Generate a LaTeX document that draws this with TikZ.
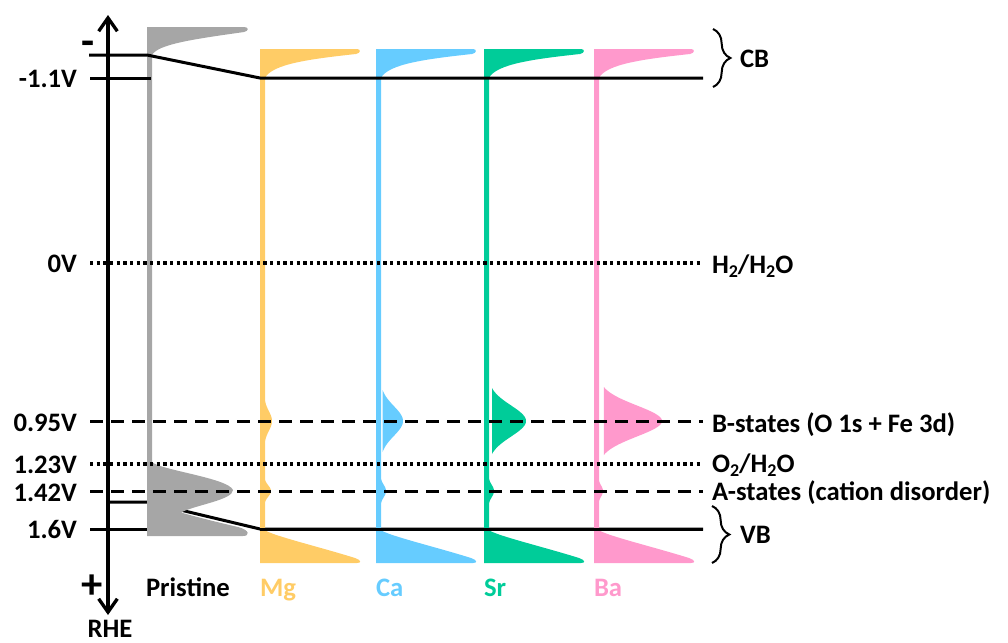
\documentclass[tikz,border=0pt]{standalone}
\usepackage{fontspec}
\setmainfont{Carlito}
\usetikzlibrary{arrows.meta,decorations.pathreplacing}

\definecolor{pristgray}{HTML}{A6A6A6}
\definecolor{mgcol}{HTML}{FFCC66}
\definecolor{cacol}{HTML}{66CCFF}
\definecolor{srcol}{HTML}{00CC99}
\definecolor{bacol}{HTML}{FF99CC}

% lowered small "2" for the chemical formulas
\newcommand{\lowtwo}{\raisebox{-0.34ex}{\fontsize{13.5}{14}\selectfont 2}}

\tikzset{
  lbl/.style={font=\fontsize{20}{24}\selectfont\bfseries, inner sep=0pt, outer sep=0pt},
  signlbl/.style={font=\fontsize{32}{34}\selectfont\bfseries, inner sep=0pt, outer sep=0pt},
  level/.style={line width=2.25pt},
  dashlevel/.style={line width=2.25pt, dash pattern=on 9.75pt off 6pt},
  dotlevel/.style={line width=2.4pt, dash pattern=on 2.4pt off 2.6pt},
  bandbrace/.style={line width=1.5pt, decorate, decoration={brace, amplitude=13pt}},
  axisline/.style={line width=2.5pt,
    {Straight Barb[length=10pt,width=14pt]}-{Straight Barb[length=10pt,width=14pt]}},
}

\begin{document}
\begin{tikzpicture}[x=0.75pt,y=-0.75pt]
\useasboundingbox (0,0) rectangle (1008,643);

% end points of the energy levels
\coordinate (cbPl) at (89,55);
\coordinate (cbPr) at (147,55);
\coordinate (cbDl) at (90,78);
\coordinate (cbDr) at (151,78);
\coordinate (cbM)  at (260,78);
\coordinate (cbR)  at (703,78);
\coordinate (vbPl) at (108,502);
\coordinate (vbPr) at (147,502);
\coordinate (vbDl) at (90,529);
\coordinate (vbDr) at (148,529);
\coordinate (vbM)  at (260,529);
\coordinate (vbR)  at (703,529);
\coordinate (hL) at (90,263);  \coordinate (hR) at (703,263);
\coordinate (bL) at (90,421);  \coordinate (bR) at (703,421);
\coordinate (oL) at (90,464);  \coordinate (oR) at (703,464);
\coordinate (aL) at (90,491);  \coordinate (aR) at (703,491);
\coordinate (axTop) at (108,15);
\coordinate (axBot) at (108,615);

% valence band edge of the pristine sample (partly hidden by its DOS)
\draw[level] (vbPl) -- (vbPr) -- (vbM) -- (vbR);
\draw[level] (vbDl) -- (vbDr);

% pristine density of states
\fill[pristgray] (147,27) -- (244,27)
  .. controls (249,27) and (249,31) .. (244,32)
  .. controls (195,39) and (158,44) .. (152,55)
  -- (152,462)
  .. controls (160,470) and (228,478) .. (233,490)
  .. controls (233,500) and (195,505) .. (181,512.5)
  .. controls (200,518) and (225,524) .. (238,527)
  .. controls (250,530) and (250,536) .. (243,536)
  -- (147,536) -- cycle;

% doped samples: band tails plus B- and A-state peaks
% (x of the bar, colour, B height/width/half span, A height/width, label)
\foreach \xo/\col/\ba/\bs/\bh/\aa/\as/\lab in
    {260/mgcol/8/14/27/7/8/Mg, 376/cacol/23/21/31/6/9/Ca,
     484/srcol/38/22/33/6/9/Sr, 594/bacol/64/22/34/5/8/Ba}{
  \fill[\col] (\xo,49) -- (\xo+97,49)
    .. controls (\xo+101,49) and (\xo+101,53) .. (\xo+96,54)
    .. controls (\xo+50,59) and (\xo+12,64) .. (\xo+5,78)
    -- (\xo+5,530)
    .. controls (\xo+10,535) and (\xo+60,547) .. (\xo+95,558)
    .. controls (\xo+101,560) and (\xo+102,563) .. (\xo+97,563)
    -- (\xo,563) -- cycle;
  \pgfmathsetmacro{\bst}{421-\bh}
  \pgfmathsetmacro{\ben}{421+\bh}
  \pgfmathsetmacro{\ast}{491-2*\as}
  \pgfmathsetmacro{\aen}{491+2*\as}
  \fill[\col] plot[variable=\t, domain=\bst:\ben, samples=60]
    ({\xo+4+\ba*exp(-((\t-421)/\bs)*((\t-421)/\bs))}, \t) -- cycle;
  \fill[\col] plot[variable=\t, domain=\ast:\aen, samples=40]
    ({\xo+4+\aa*exp(-((\t-491)/\as)*((\t-491)/\as))}, \t) -- cycle;
  \node[lbl, text=\col, anchor=base west] (lab\lab) at (\xo,596) {\lab};
}

% conduction band edges and the remaining levels
\draw[level] (cbPl) -- (cbPr) -- (cbM) -- (cbR);
\draw[level] (cbDl) -- (cbDr);
\draw[level] (vbM) -- (vbR);
\draw[dotlevel] (hL) -- (hR);
\draw[dashlevel] (bL) -- (bR);
\draw[dotlevel] (oL) -- (oR);
\draw[dashlevel] (aL) -- (aR);

% potential axis
\draw[axisline] (axBot) -- (axTop);

% axis labels
\node[signlbl, anchor=base] (minus) at (88,55) {-};
\node[signlbl, anchor=base] (plus) at (92,598) {+};
\node[lbl, anchor=base] (rhe) at (110,637) {RHE};
\node[lbl, anchor=base east] (vCB) at (77,87) {-1.1V};
\node[lbl, anchor=base east] (vH) at (77,272) {0V};
\node[lbl, anchor=base east] (vB) at (77,431) {0.95V};
\node[lbl, anchor=base east] (vO) at (77,473) {1.23V};
\node[lbl, anchor=base east] (vA) at (77,501) {1.42V};
\node[lbl, anchor=base east] (vVB) at (77,538) {1.6V};
\node[lbl, anchor=base west] (labPristine) at (146,596) {Pristine};

% level labels
\node[lbl, anchor=base west] (tH) at (712,273) {H\lowtwo/H\lowtwo O};
\node[lbl, anchor=base west] (tB) at (712,432) {B-states (O 1s + Fe 3d)};
\node[lbl, anchor=base west] (tO) at (712,472) {O\lowtwo/H\lowtwo O};
\node[lbl, anchor=base west] (tA) at (712,500) {A-states (cation disorder)};

% band braces
\coordinate (cbBt) at (713,29);
\coordinate (cbBb) at (713,87);
\coordinate (vbBt) at (712,506);
\coordinate (vbBb) at (712,563);
\draw[bandbrace] (cbBt) -- (cbBb);
\draw[bandbrace] (vbBt) -- (vbBb);
\node[lbl, anchor=base west] (tCB) at (740,67) {CB};
\node[lbl, anchor=base west] (tVB) at (740,543) {VB};
\end{tikzpicture}
\end{document}
